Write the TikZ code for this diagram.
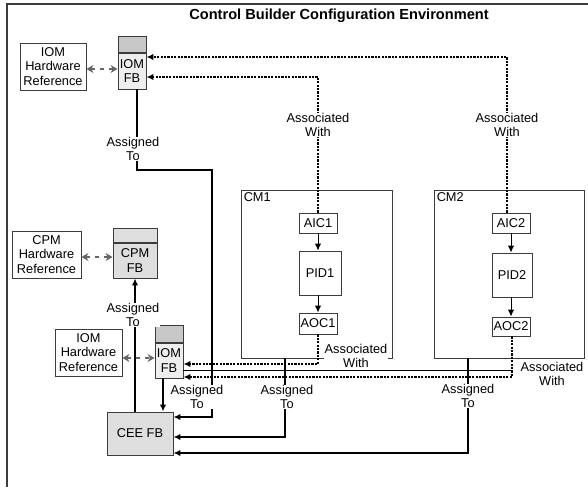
\documentclass[tikz,border=0pt]{standalone}
\usepackage{fontspec}
\setmainfont{Liberation Sans}
\usetikzlibrary{positioning}
\usetikzlibrary{arrows.meta}
\usetikzlibrary{calc}
\definecolor{figGris}{RGB}{222,222,222}
\definecolor{figGrisClaro}{RGB}{238,238,238}
\definecolor{figGrisOscuro}{RGB}{200,200,200}
\definecolor{figBorde}{RGB}{60,60,60}
\tikzset{
  caja/.style={
    rectangle, draw=figBorde, line width=0.9pt, fill=white,
    align=center, font=\fontsize{12.8}{14.5}\selectfont, inner sep=1pt
  },
  cuerpo/.style={caja, fill=figGrisClaro},
  cabecera/.style={
    rectangle, draw=figBorde, line width=0.9pt, fill=figGrisOscuro, inner sep=0pt
  },
  flecha/.style={-{Latex[length=7pt,width=6.5pt]}, line width=1.6pt},
  flechap/.style={-{Latex[length=7pt,width=6.5pt]}, line width=2pt, dash pattern=on 2.2pt off 1.2pt},
  enlace/.style={{Stealth[length=7pt,width=8pt]}-{Stealth[length=7pt,width=8pt]}, line width=1.1pt, draw=black!60, dash pattern=on 4pt off 5pt},
  etiqueta/.style={fill=white, align=center, inner sep=0.5pt, font=\fontsize{12.8}{14.5}\selectfont}
}

\begin{document}
\begin{tikzpicture}[x=1pt, y=-1pt]
  \useasboundingbox (0,0) rectangle (588,487);
  % Marco del entorno
  \draw[line width=1.2pt, figBorde] (588,4) -- (7,4) -- (7,487);
  \node[font=\bfseries\fontsize{14.6}{16}\selectfont] (titulo) at (339,15.5) {Control Builder Configuration Environment};

  % IOM superior
  \node[caja, minimum width=66pt, minimum height=47pt] (iomrefA) at (53,66.5) {IOM\\Hardware\\Reference};
  \node[cuerpo, minimum width=28pt, minimum height=36pt] (iomfbA) at (132,71) {IOM\\FB};
  \node[cabecera, minimum width=28pt, minimum height=16pt, above=0pt of iomfbA] (iomcabA) {};

  % CPM
  \node[caja, minimum width=69pt, minimum height=47pt] (cpmref) at (46.5,254.5) {CPM\\Hardware\\Reference};
  \node[cuerpo, fill=figGris, minimum width=44pt, minimum height=35pt] (cpmfb) at (135,260.5) {CPM\\FB};
  \node[cabecera, fill=figGris, minimum width=44pt, minimum height=14pt, above=0pt of cpmfb] (cpmcab) {};

  % IOM inferior
  \node[caja, minimum width=67pt, minimum height=47pt] (iomrefB) at (88.5,352.5) {IOM\\Hardware\\Reference};
  \node[cuerpo, minimum width=28pt, minimum height=35pt] (iomfbB) at (169,360.5) {IOM\\FB};
  \node[cabecera, fill=figGris!90!black, minimum width=28pt, minimum height=17pt, above=0pt of iomfbB] (iomcabB) {};

  % CEE
  \node[caja, fill=figGris, minimum width=66pt, minimum height=43pt] (cee) at (140,433.5) {CEE FB};

  % CM1
  \node[caja, minimum width=151pt, minimum height=168pt] (cm1) at (316.5,274) {};
  \node[font=\fontsize{12.8}{14.5}\selectfont, anchor=north west, inner sep=3pt] (cm1txt) at (cm1.north west) {CM1};
  \node[caja, minimum width=38pt, minimum height=20pt] (aic1) at (318,223) {AIC1};
  \node[caja, minimum width=42pt, minimum height=44pt] (pid1) at (320,273) {PID1};
  \node[caja, minimum width=38pt, minimum height=21pt] (aoc1) at (318,323.5) {AOC1};
  \draw[flecha, line width=1pt] (aic1.south) -- (aic1.south |- pid1.north);
  \draw[flecha, line width=1pt] (aoc1.north |- pid1.south) -- (aoc1.north);

  % CM2
  \node[caja, minimum width=150pt, minimum height=168pt] (cm2) at (509,274) {};
  \node[font=\fontsize{12.8}{14.5}\selectfont, anchor=north west, inner sep=3pt] (cm2txt) at (cm2.north west) {CM2};
  \node[caja, minimum width=38pt, minimum height=20pt] (aic2) at (511,223) {AIC2};
  \node[caja, minimum width=40pt, minimum height=44pt] (pid2) at (512,275) {PID2};
  \node[caja, minimum width=38pt, minimum height=19pt] (aoc2) at (511,326.5) {AOC2};
  \draw[flecha, line width=1pt] (aic2.south) -- (aic2.south |- pid2.north);
  \draw[flecha, line width=1pt] (aoc2.north |- pid2.south) -- (aoc2.north);

  % Referencias de hardware
  \draw[enlace] ([yshift=-2.5pt]iomrefA.east) -- ([yshift=-2.5pt]iomrefA.east -| iomfbA.west);
  \draw[enlace] ([yshift=-2.5pt]cpmref.east) -- ([yshift=-2.5pt]cpmref.east -| cpmfb.west);
  \draw[enlace] ([yshift=-5.5pt]iomrefB.east) -- ([yshift=-5.5pt]iomrefB.east -| iomfbB.west);

  % Asociaciones
  \draw[flechap] ([xshift=-4pt]aic2.north) |- ([yshift=14pt]iomfbA.east);
  \draw[flechap] (aic1.north) |- ([yshift=-6pt]iomfbA.east);
  \draw[line width=0.9pt] ([yshift=-9.5pt]iomfbB.east) -- ([yshift=-9.5pt]iomfbB.east -| aoc2.south);
  \draw[flechap] (aoc1.south) |- ([yshift=-3.5pt]iomfbB.east);
  \draw[flechap] ([xshift=1pt]aoc2.south) |- ([yshift=-16.5pt]iomfbB.east);

  % Asignaciones
  \coordinate (codoA) at (212,170);
  \draw[flecha] ([xshift=5pt]iomfbA.south) |- (codoA) |- ([yshift=16.5pt]cee.east);
  \draw[flecha] (cee.north -| cpmfb.south) -- (cpmfb.south);
  \draw[flecha] ([xshift=-6pt]iomfbB.south) -- ([xshift=-6pt]iomfbB.south |- cee.north);
  \draw[flecha] ([xshift=-31.5pt]cm1.south) |- ([yshift=-3.5pt]cee.east);
  \draw[flecha] ([xshift=-41pt]cm2.south) |- ([yshift=-19.5pt]cee.east);

  % Etiquetas
  \node[etiqueta] (asocA) at (318,125) {Associated\\With};
  \node[etiqueta] (asocB) at (507,125) {Associated\\With};
  \node[etiqueta] (asocC) at (356,356) {Associated\\With};
  \node[etiqueta] (asocD) at (552,374) {Associated\\With};
  \node[etiqueta] (asigA) at (133,149) {Assigned\\To};
  \node[etiqueta] (asigB) at (133,315) {Assigned\\To};
  \node[etiqueta] (asigC) at (197,397) {Assigned\\To};
  \node[etiqueta] (asigD) at (287,397) {Assigned\\To};
  \node[etiqueta] (asigE) at (468,396) {Assigned\\To};
\end{tikzpicture}
\end{document}
